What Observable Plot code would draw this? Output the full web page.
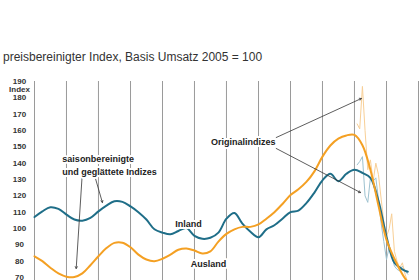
<!DOCTYPE html>
<html>
<head>
<meta charset="utf-8">
<script src="https://cdn.jsdelivr.net/npm/d3@7"></script>
<script src="https://cdn.jsdelivr.net/npm/@observablehq/plot@0.6"></script>
<style>
  html, body { margin: 0; padding: 0; background: #fff; overflow: hidden; }
  body { width: 420px; height: 280px; font-family: "Liberation Sans", Arial, sans-serif; }
  .title { box-sizing: border-box; height: 68px; padding: 50px 0 0 3px; font-size: 12px; line-height: 14px; color: #333; white-space: nowrap; }
</style>
</head>
<body>
<div class="title">preisbereinigter Index, Basis Umsatz 2005 = 100</div>
<div id="chart"></div>
<script>
// Year grid and value axis
const gridYears = d3.range(1998, 2011);
const yTicks = [70, 80, 90, 100, 110, 120, 130, 140, 150, 160, 170, 180, 190];

// Seasonally adjusted and smoothed indices, quarterly from Jan 1998, last point Sep 2009
const smoothDates = d3.utcMonths(new Date(Date.UTC(1998, 0, 1)), new Date(Date.UTC(2009, 8, 1)), 3)
  .concat([new Date(Date.UTC(2009, 8, 1))]);
const inlandSmooth = [107, 110.5, 113, 112, 108.5, 105.5, 104.8, 106.5, 110.5, 114, 116.7, 116.3,
  113.5, 110, 105.5, 99.5, 97.5, 96.5, 98.5, 100.3, 95.5, 93.7, 94.3, 97.5,
  106, 109.5, 103, 98, 94.7, 99.5, 102, 106, 110, 111, 115.5, 122,
  129.5, 133.5, 129, 133.5, 136, 134, 131, 117, 95, 79, 75, 73.5];
const auslandSmooth = [83, 80, 76, 72.5, 70.5, 70.3, 72.5, 77.5, 83, 88, 91.2, 91.3,
  88.5, 84, 81, 80, 81.5, 84, 87, 87.8, 86.5, 84.7, 86, 92,
  96.7, 99.5, 101, 101, 102.5, 106, 110, 115, 120.5, 124, 128.5, 135,
  144, 150.8, 155, 157, 157.3, 151, 136, 114, 93, 81.5, 72, 67];

// Original (unadjusted) monthly indices, Feb 2008 to Sep 2009
const origDates = d3.utcMonths(new Date(Date.UTC(2008, 1, 1)), new Date(Date.UTC(2009, 9, 1)));
const auslandOrig = [164, 161, 187, 160, 136, 142, 129, 140, 133, 118, 104, 95, 100, 109, 86, 80, 76, 79, 72, 67];
const inlandOrig = [139, 141, 144, 120, 116, 131, 129, 131, 118, 103, 92, 81, 89, 84, 77, 75, 74, 77, 74, 72];

// Annotation labels (left-aligned and centred) and pointer arrows, in date/index coordinates
const notesStart = [
  {date: new Date(Date.UTC(1998, 10, 15)), value: 139.2, text: "saisonbereinigte\nund geglättete Indizes"},
  {date: new Date(Date.UTC(2003, 6, 8)), value: 153.9, text: "Originalindizes"}
];
const notesMiddle = [
  {date: new Date(Date.UTC(2002, 9, 24)), value: 103.2, text: "Inland"},
  {date: new Date(Date.UTC(2003, 5, 10)), value: 79, text: "Ausland"}
];
const pointers = [
  {d1: new Date(Date.UTC(1999, 6, 1)), v1: 134.3, d2: new Date(Date.UTC(1999, 3, 22)), v2: 75.5},
  {d1: new Date(Date.UTC(1999, 10, 8)), v1: 134.3, d2: new Date(Date.UTC(2000, 1, 15)), v2: 115.9},
  {d1: new Date(Date.UTC(2005, 6, 22)), v1: 155.7, d2: new Date(Date.UTC(2008, 2, 20)), v2: 179.6},
  {d1: new Date(Date.UTC(2005, 6, 22)), v1: 149, d2: new Date(Date.UTC(2008, 2, 10)), v2: 122}
];

const TEAL = "#1f6e88";
const ORANGE = "#f4a023";
const TEAL_LIGHT = "#9dc2d0";
const ORANGE_LIGHT = "#f8cf96";

const series = (dates, values) => dates.map((d, i) => ({date: d, value: values[i]}));
const noteStyle = {x: "date", y: "value", text: "text", lineHeight: 1.4,
  fontWeight: "bold", fontSize: 9, fill: "#222", stroke: "white", strokeWidth: 4};

const chart = Plot.plot({
  width: 420,
  height: 212,
  marginTop: 13,
  marginBottom: 3,
  marginLeft: 34,
  marginRight: 2,
  style: {fontFamily: "Liberation Sans, Arial, sans-serif", background: "#fff", overflow: "visible"},
  x: {type: "utc", domain: [new Date(Date.UTC(1998, 0, 1)), new Date(Date.UTC(2010, 0, 1))], axis: null},
  y: {domain: [70, 190], axis: null, label: null},
  marks: [
    Plot.ruleX(gridYears.map(y => new Date(Date.UTC(y, 0, 1))), {y1: 66, y2: 190, stroke: "#9a9a9a", strokeWidth: 1}),
    Plot.axisY({ticks: yTicks, tickSize: 0, tickPadding: 15, textAnchor: "middle", fontWeight: "bold", fontSize: 8, fill: "#333", label: null}),
    Plot.text(["Index"], {frameAnchor: "left", y: [185], dx: -15, textAnchor: "middle", fontWeight: "bold", fontSize: 8, fill: "#333"}),
    Plot.line(series(origDates, inlandOrig), {x: "date", y: "value", stroke: TEAL_LIGHT, strokeWidth: 1}),
    Plot.line(series(origDates, auslandOrig), {x: "date", y: "value", stroke: ORANGE_LIGHT, strokeWidth: 1}),
    Plot.line(series(smoothDates, inlandSmooth), {x: "date", y: "value", stroke: TEAL, strokeWidth: 2, curve: "catmull-rom"}),
    Plot.line(series(smoothDates, auslandSmooth), {x: "date", y: "value", stroke: ORANGE, strokeWidth: 2, curve: "catmull-rom"}),
    Plot.arrow(pointers, {x1: "d1", y1: "v1", x2: "d2", y2: "v2", stroke: "#333", strokeWidth: 0.8, headLength: 4}),
    Plot.text(notesStart, {...noteStyle, textAnchor: "start"}),
    Plot.text(notesMiddle, {...noteStyle, textAnchor: "middle"})
  ]
});
document.getElementById("chart").append(chart);
</script>
</body>
</html>
